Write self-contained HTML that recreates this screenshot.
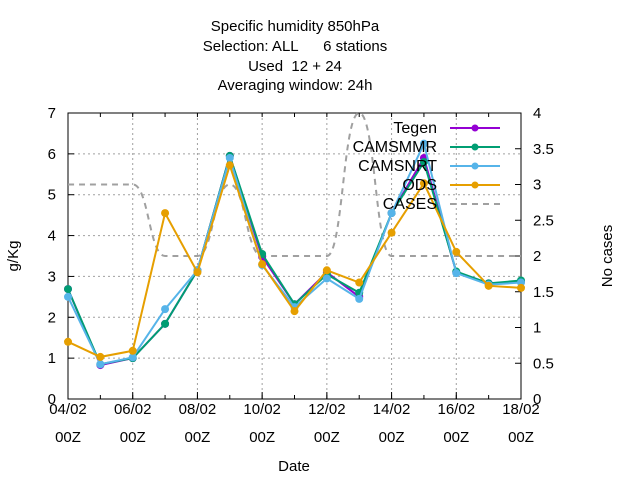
<!DOCTYPE html>
<html><head><meta charset="utf-8"><style>
body{margin:0;background:#fff}
svg{display:block;font-family:"Liberation Sans","DejaVu Sans",sans-serif;font-size:15px}
</style></head><body>
<svg id="chart" width="640" height="480" viewBox="0 0 640 480">
<g text-anchor="middle" fill="#000">
<text x="295" y="31">Specific humidity 850hPa</text>
<text x="295" y="51" xml:space="preserve">Selection: ALL      6 stations</text>
<text x="295" y="71" xml:space="preserve">Used  12 + 24</text>
<text x="295" y="90">Averaging window: 24h</text>
</g>
<g id="grid"></g>
<g id="axes"></g>
<g id="series"></g>
<g id="legend"></g>
<text x="18" y="256" transform="rotate(-90 18 256)" text-anchor="middle">g/Kg</text>
<text x="612" y="256" transform="rotate(-90 612 256)" text-anchor="middle">No cases</text>
<text x="294" y="471" text-anchor="middle">Date</text>
</svg>
<script>
const days = [4,5,6,7,8,9,10,11,12,13,14,15,16,17,18];
const tegen = [2.69,0.83,1.0,1.84,3.15,5.95,3.48,2.32,3.1,2.5,4.55,5.9,3.1,2.83,2.87];
const camsmmr = [2.69,0.85,1.0,1.84,3.15,5.95,3.55,2.32,3.05,2.6,4.55,5.8,3.12,2.83,2.9];
const camsnrt = [2.5,0.85,1.02,2.2,3.15,5.9,3.28,2.25,2.95,2.45,4.55,6.25,3.08,2.8,2.85];
const ods = [1.4,1.03,1.18,4.55,3.1,5.72,3.3,2.15,3.15,2.85,4.07,5.28,3.6,2.77,2.72];
const cases = [3,3,3,2,2,3,2,2,2,4,2,2,2,2,2];
const yTicks = [0,1,2,3,4,5,6,7];
const y2Ticks = [0,0.5,1,1.5,2,2.5,3,3.5,4];
const xTickDays = [4,6,8,10,12,14,16,18];
const xTickLabels = ["04/02","06/02","08/02","10/02","12/02","14/02","16/02","18/02"];
const seriesNames = ["Tegen","CAMSMMR","CAMSNRT","ODS"];
const seriesColors = ["#9400d3","#009e73","#56b4e9","#e69f00"];

const L=68,R=521,T=113,B=399;
const xS=d=>L+(d-4)*(R-L)/14;
const yS=v=>B-v*(B-T)/7;
const y2S=v=>B-v*(B-T)/4;
const NS="http://www.w3.org/2000/svg";
function mk(tag,attrs,parent){const e=document.createElementNS(NS,tag);for(const k in attrs)e.setAttribute(k,attrs[k]);parent.appendChild(e);return e;}
const grid=document.getElementById('grid'),axes=document.getElementById('axes'),ser=document.getElementById('series'),leg=document.getElementById('legend');

yTicks.forEach(v=>{
  if(v>0&&v<7){const g=mk('line',{x1:L,x2:R,y1:yS(v),y2:yS(v),stroke:'#a0a0a0','stroke-dasharray':'2,3'},grid);
  
  }
  const t=mk('line',{x1:L,x2:L+6,y1:yS(v),y2:yS(v),stroke:'#000'},axes);
  
  
  const lb=mk('text',{x:L-12,y:yS(v)+5,'text-anchor':'end'},axes);lb.textContent=v;
  
  
});
y2Ticks.forEach(v=>{
  const t=mk('line',{x1:R-6,x2:R,y1:y2S(v),y2:y2S(v),stroke:'#000'},axes);
  
  
  const lb=mk('text',{x:R+12,y:y2S(v)+5},axes);lb.textContent=v;
  
  
});
days.forEach(d=>{
  const t=mk('line',{x1:xS(d),x2:xS(d),y1:B,y2:B-4,stroke:'#000'},axes);
  
  
  const t2=mk('line',{x1:xS(d),x2:xS(d),y1:T,y2:T+4,stroke:'#000'},axes);
  
  
});
xTickDays.forEach((d,i)=>{
  if(d>4&&d<18){const g=mk('line',{x1:xS(d),x2:xS(d),y1:T,y2:B,stroke:'#a0a0a0','stroke-dasharray':'2,3'},grid);
  
  }
  const t=mk('line',{x1:xS(d),x2:xS(d),y1:B,y2:B-7,stroke:'#000'},axes);
  
  
  const lb=mk('text',{x:xS(d),y:B+15,'text-anchor':'middle'},axes);lb.textContent=xTickLabels[i];
  
  
  const lb2=mk('text',{x:xS(d),y:B+43,'text-anchor':'middle'},axes);lb2.textContent="00Z";
  
  
});
const frame=mk('rect',{x:L,y:T,width:R-L,height:B-T,fill:'none',stroke:'#000'},axes);



// cases (smoothed with horizontal tangents)
let dpath='M'+xS(days[0])+','+y2S(cases[0]);
for(let i=1;i<days.length;i++){
  const x0=xS(days[i-1]),x1=xS(days[i]),y0=y2S(cases[i-1]),y1=y2S(cases[i]),h=(x1-x0)/2;
  dpath+=' C'+(x0+h)+','+y0+' '+(x1-h)+','+y1+' '+x1+','+y1;
}
const cl=mk('path',{d:dpath,fill:'none',stroke:'#a0a0a0','stroke-width':2,'stroke-dasharray':'6,5'},ser);



[tegen,camsmmr,camsnrt,ods].forEach((arr,si)=>{
  const g=mk('g',{},ser);
  
  
  mk('polyline',{points:days.map((d,i)=>xS(d)+','+yS(arr[i])).join(' '),fill:'none',stroke:seriesColors[si],'stroke-width':2},g);
  days.forEach((d,i)=>{
    const p=mk('circle',{cx:xS(d),cy:yS(arr[i]),r:4,fill:seriesColors[si]},g);
    
    
  });
});

// legend
const names=seriesNames.concat(["CASES"]);
names.forEach((n,i)=>{
  const y=128+i*19;
  const lb=mk('text',{x:437,y:y+5,'text-anchor':'end','font-size':'16px'},leg);lb.textContent=n;
  
  
  if(i<4){
    const ln=mk('line',{x1:450,x2:500,y1:y,y2:y,stroke:seriesColors[i],'stroke-width':2},leg);
    
    
    mk('circle',{cx:475,cy:y,r:3.5,fill:seriesColors[i]},leg);
  } else {
    const ln=mk('line',{x1:450,x2:500,y1:y,y2:y,stroke:'#a0a0a0','stroke-width':2,'stroke-dasharray':'6,5'},leg);
    
    
  }
});
</script>
</body></html>
